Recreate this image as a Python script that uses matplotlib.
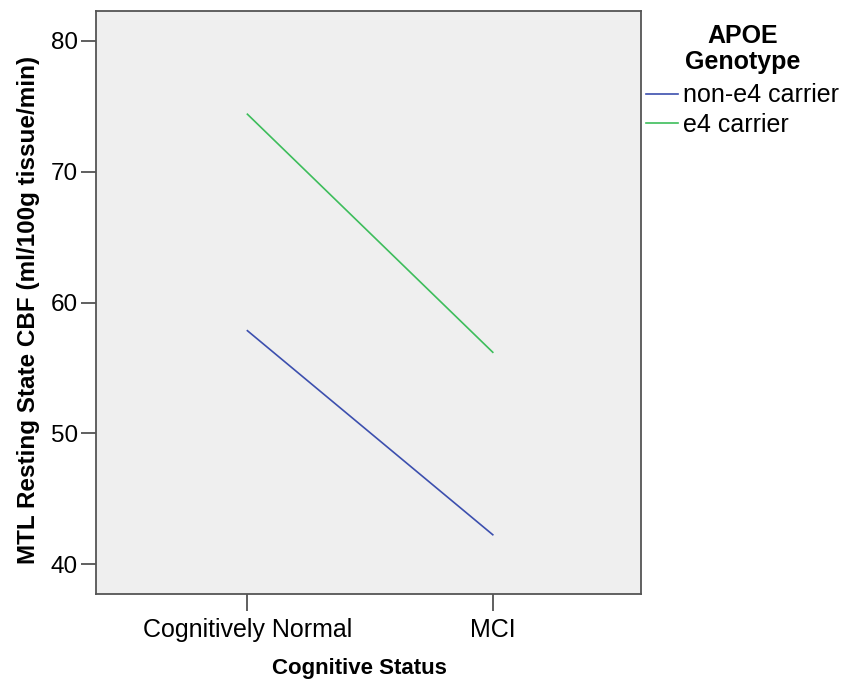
import matplotlib
matplotlib.use("Agg")
import matplotlib.pyplot as plt

categories = ["Cognitively Normal", "MCI"]
non_e4 = [57.85, 42.25]
e4 = [74.4, 56.2]
series_names = ["non-e4 carrier", "e4 carrier"]
yticks = [40, 50, 60, 70, 80]

plt.rcParams['font.family'] = ['Liberation Sans', 'DejaVu Sans']

fig = plt.figure(figsize=(8.48, 6.83), dpi=100)
ax = fig.add_axes([0.1132, 0.1303, 0.6427, 0.8536])
ax.set_facecolor('#efefef')

x = list(range(len(categories)))
ax.plot(x, non_e4, color='#3c4fae', lw=1.2, label=series_names[0])
ax.plot(x, e4, color='#3dbd5b', lw=1.2, label=series_names[1])

ax.set_xlim(-0.617, 1.604)
ax.set_ylim(37.72, 82.29)
ax.set_xticks(x)
ax.set_xticklabels(categories, fontsize=18)
ax.set_yticks(yticks)
ax.set_yticklabels([str(v) for v in yticks], fontsize=17.5)
ax.tick_params(axis='y', length=11, width=1.2, color='#444444', pad=2)
ax.tick_params(axis='x', length=12, width=1.2, color='#444444', pad=5)
for s in ax.spines.values():
    s.set_color('#555555')
    s.set_linewidth(1.3)

ax.set_xlabel("Cognitive Status", fontsize=16, fontweight='bold', labelpad=12)
ax.xaxis.label.set_x(0.4835)
ax.set_ylabel("MTL Resting State CBF (ml/100g tissue/min)", fontsize=17.5,
              fontweight='bold', labelpad=8)
ax.yaxis.label.set_y(0.487)

leg = ax.legend(loc='upper left', bbox_to_anchor=(1.009, 0.876), frameon=False,
                fontsize=18, handlelength=1.3, handletextpad=0.17, labelspacing=0.22,
                borderaxespad=0.0, borderpad=0.0)
fig.text(0.876, 0.928, "APOE\nGenotype", ha='center', va='center', fontsize=18,
         fontweight='bold', linespacing=1.1)

fig.savefig("out.png", dpi=100, facecolor='white')
